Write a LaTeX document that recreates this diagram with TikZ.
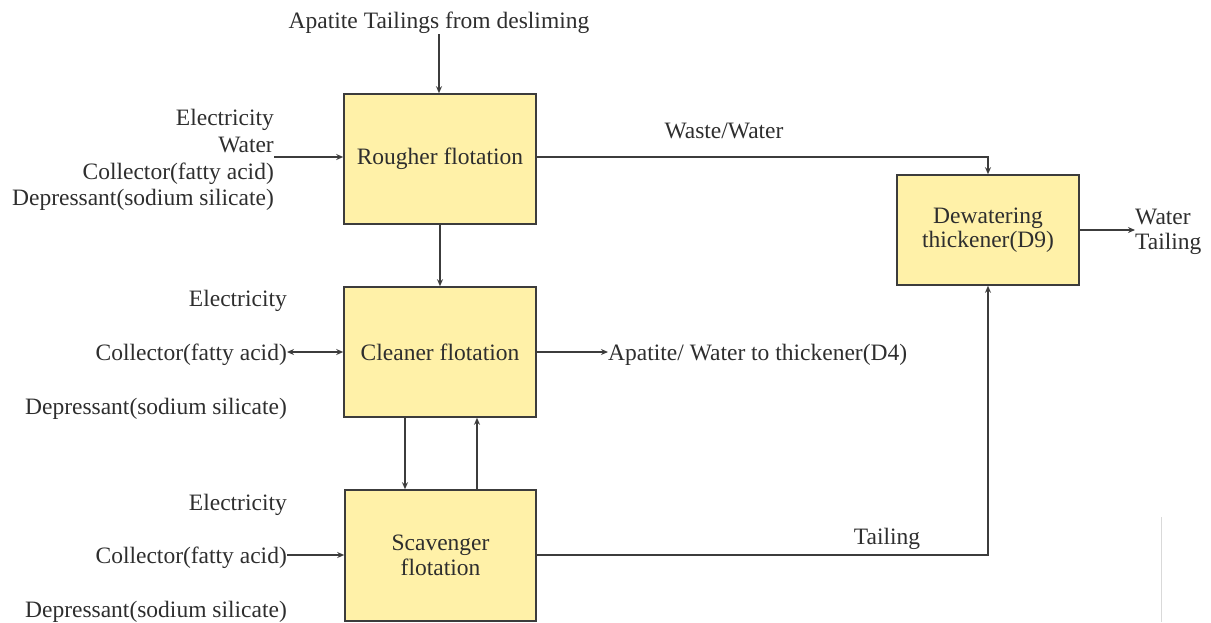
\documentclass[tikz,border=0pt]{standalone}
\usepackage{fontspec}
\setmainfont{Liberation Serif}
\usetikzlibrary{arrows.meta}
\definecolor{boxfill}{HTML}{FFF1A8}
\definecolor{boxline}{HTML}{3C3C3C}
\definecolor{txt}{HTML}{2E2E2E}
\tikzset{
  unit/.style={draw=boxline, line width=1.6pt, fill=boxfill, minimum width=192pt,
    minimum height=130pt, inner sep=0pt, align=center, font=\fontsize{23.5}{24.5}\selectfont, text=txt},
  lbl/.style={inner sep=0pt, font=\fontsize{23.5}{26}\selectfont, text=txt},
  flow/.style={draw=boxline, line width=1.3pt, -{Stealth[length=7pt,width=6pt]}},
  flow2/.style={draw=boxline, line width=1.3pt, {Stealth[length=7pt,width=6pt]}-{Stealth[length=7pt,width=6pt]}},
}
\begin{document}
\begin{tikzpicture}[x=1pt,y=-1pt]
\useasboundingbox (0,0) rectangle (1211,622);

% process units
\node[unit] (rough) at (440,159) {Rougher flotation};
\node[unit] (clean) at (440,352) {Cleaner flotation};
\node[unit, minimum width=191pt, minimum height=131pt] (scav) at (440.5,555.5) {Scavenger\\flotation};
\node[unit, minimum width=182pt, minimum height=110pt] (dewat) at (988,230) {Dewatering\\thickener(D9)};

% feed
\node[lbl, anchor=base] (feed) at (439,28) {Apatite Tailings from desliming};
\draw[flow] (439,34) coordinate (f0) -- (f0 |- rough.north);

% rougher reagents
\node[lbl, anchor=east, align=right, font=\fontsize{23.5}{26.7}\selectfont] (rin) at (274,160)
  {Electricity\\Water\\Collector(fatty acid)\\Depressant(sodium silicate)};
\draw[flow] (rin.east |- 0,157) -- (rough.west |- 0,157);

% rougher overflow to thickener
\coordinate (ww) at (988,157);
\draw[flow] (rough.east |- ww) -- (ww) -- (dewat.north);
\node[lbl, anchor=base] (wwl) at (724,138) {Waste/Water};

% rougher to cleaner
\draw[flow] (rough.south) -- (clean.north);

% cleaner reagents
\node[lbl, anchor=base east] (ce) at (287,306) {Electricity};
\node[lbl, anchor=base east] (cc) at (287,360) {Collector(fatty acid)};
\node[lbl, anchor=base east] (cd) at (287,414) {Depressant(sodium silicate)};
\draw[flow2] (cc.east |- 0,352) -- (clean.west |- 0,352);

% cleaner concentrate
\node[lbl, anchor=base west] (conc) at (608,360) {Apatite/ Water to thickener(D4)};
\draw[flow] (clean.east |- 0,352) -- (conc.west |- 0,352);

% cleaner <-> scavenger
\draw[flow] (405,0 |- clean.south) -- (405,0 |- scav.north);
\draw[flow] (477,0 |- scav.north) -- (477,0 |- clean.south);

% scavenger reagents
\node[lbl, anchor=base east] (se) at (287,510) {Electricity};
\node[lbl, anchor=base east] (sc) at (287,563) {Collector(fatty acid)};
\node[lbl, anchor=base east] (sd) at (287,617) {Depressant(sodium silicate)};
\draw[flow] (sc.east |- 0,555) -- (scav.west |- 0,555);

% scavenger tailing to thickener
\coordinate (tl) at (988,555);
\draw[flow] (scav.east |- tl) -- (tl) -- (dewat.south);
\node[lbl, anchor=base] (tll) at (887,544) {Tailing};

% thickener outlet
\node[lbl, anchor=west, align=left, font=\fontsize{23.5}{25.5}\selectfont] (out) at (1135,232) {Water\\Tailing};
\draw[flow] (dewat.east) -- (out.west |- dewat.east);

% faint edge mark
\draw[black!15, line width=1pt] (1161,517) -- (1161,622);
\end{tikzpicture}
\end{document}
